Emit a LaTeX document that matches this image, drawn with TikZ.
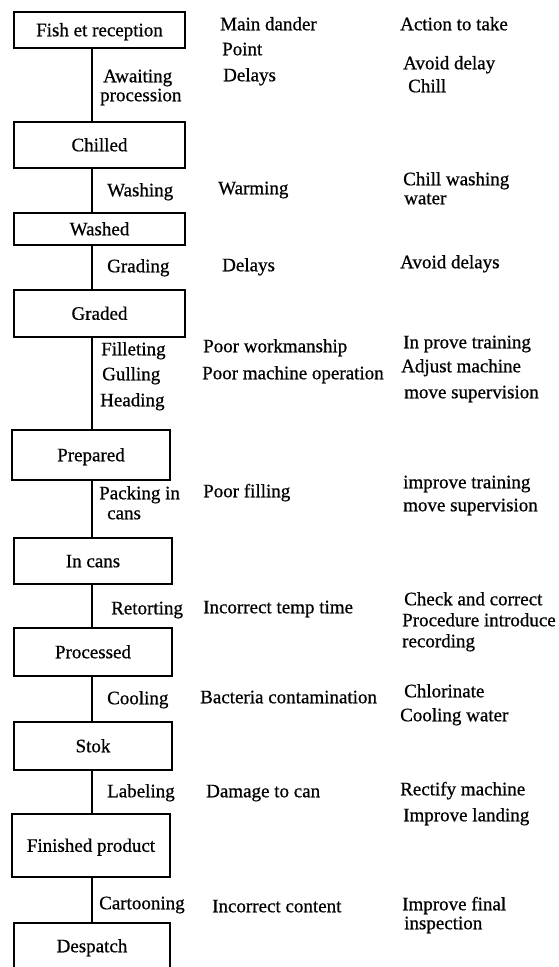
\documentclass[tikz,border=0pt]{standalone}
\usepackage{fontspec}
\setmainfont{Liberation Serif}[FakeBold=0.7]
\begin{document}
\begin{tikzpicture}[x=1pt,y=-1pt,
  every node/.style={font=\fontsize{19}{21}\selectfont},
  stepbox/.style={draw, line width=2.5pt, inner sep=0pt, minimum width=#1, text height=12.5pt, text depth=0pt},
  stepbox/.default=171pt,
  txt/.style={anchor=west, inner sep=0pt, text height=12.5pt, text depth=0pt},
  link/.style={line width=2.5pt}]
\useasboundingbox (0,0) rectangle (559,967);
\coordinate (spine) at (92,0);
% process boxes
\node[stepbox, minimum height=36pt] (fish) at (99.5,30) {Fish et reception};
\node[stepbox, minimum height=46pt] (chilled) at (99.5,145) {Chilled};
\node[stepbox, minimum height=32pt] (washed) at (99.5,229) {Washed};
\node[stepbox, minimum height=47pt] (graded) at (99.5,313.5) {Graded};
\node[stepbox=158pt, minimum height=50pt] (prepared) at (91,455) {Prepared};
\node[stepbox=158pt, minimum height=46pt] (incans) at (93,561) {In cans};
\node[stepbox=158pt, minimum height=48pt] (processed) at (93,652) {Processed};
\node[stepbox=158pt, minimum height=48pt] (stok) at (93,746) {Stok};
\node[stepbox=158pt, minimum height=63pt] (finished) at (91,845.5) {Finished product};
\node[stepbox=156pt, minimum height=46pt] (despatch) at (92,946) {Despatch};
% connectors
\draw[link] (fish.south -| spine) -- (chilled.north -| spine);
\draw[link] (chilled.south -| spine) -- (washed.north -| spine);
\draw[link] (washed.south -| spine) -- (graded.north -| spine);
\draw[link] (graded.south -| spine) -- (prepared.north -| spine);
\draw[link] (prepared.south -| spine) -- (incans.north -| spine);
\draw[link] (incans.south -| spine) -- (processed.north -| spine);
\draw[link] (processed.south -| spine) -- (stok.north -| spine);
\draw[link] (stok.south -| spine) -- (finished.north -| spine);
\draw[link] (finished.south -| spine) -- (despatch.north -| spine);
% operation labels
\node[txt] (l1a) at (103,76) {Awaiting};
\node[txt] (l1b) at (100,95) {procession};
\node[txt] (l2) at (107,190) {Washing};
\node[txt] (l3) at (107,266) {Grading};
\node[txt] (l4a) at (101,349) {Filleting};
\node[txt] (l4b) at (102,374) {Gulling};
\node[txt] (l4c) at (100,400) {Heading};
\node[txt] (l5a) at (99,493) {Packing in};
\node[txt] (l5b) at (107,513) {cans};
\node[txt] (l6) at (111,608) {Retorting};
\node[txt] (l7) at (107,698) {Cooling};
\node[txt] (l8) at (107,791) {Labeling};
\node[txt] (l9) at (99,903) {Cartooning};
% main danger column
\node[txt] (d0a) at (220,24) {Main dander};
\node[txt] (d0b) at (222,49) {Point};
\node[txt] (d1) at (223,75) {Delays};
\node[txt] (d2) at (218,188) {Warming};
\node[txt] (d3) at (222,265) {Delays};
\node[txt] (d4a) at (203,346) {Poor workmanship};
\node[txt] (d4b) at (202,373) {Poor machine operation};
\node[txt] (d5) at (203,491) {Poor filling};
\node[txt] (d6) at (203,607) {Incorrect temp time};
\node[txt] (d7) at (200,697) {Bacteria contamination};
\node[txt] (d8) at (206,791) {Damage to can};
\node[txt] (d9) at (212,906) {Incorrect content};
% action column
\node[txt] (a0) at (400,24) {Action to take};
\node[txt] (a1a) at (403,63) {Avoid delay};
\node[txt] (a1b) at (408,86) {Chill};
\node[txt] (a2a) at (403,179) {Chill washing};
\node[txt] (a2b) at (404,198) {water};
\node[txt] (a3) at (400,262) {Avoid delays};
\node[txt] (a4a) at (403,342) {In prove training};
\node[txt] (a4b) at (401,366) {Adjust machine};
\node[txt] (a4c) at (404,392) {move supervision};
\node[txt] (a5a) at (403,482) {improve training};
\node[txt] (a5b) at (403,505) {move supervision};
\node[txt] (a6a) at (404,599) {Check and correct};
\node[txt] (a6b) at (402,620) {Procedure introduce};
\node[txt] (a6c) at (402,641) {recording};
\node[txt] (a7a) at (404,691) {Chlorinate};
\node[txt] (a7b) at (400,715) {Cooling water};
\node[txt] (a8a) at (400,789) {Rectify machine};
\node[txt] (a8b) at (403,815) {Improve landing};
\node[txt] (a9a) at (402,904) {Improve final};
\node[txt] (a9b) at (404,923) {inspection};
\end{tikzpicture}
\end{document}
